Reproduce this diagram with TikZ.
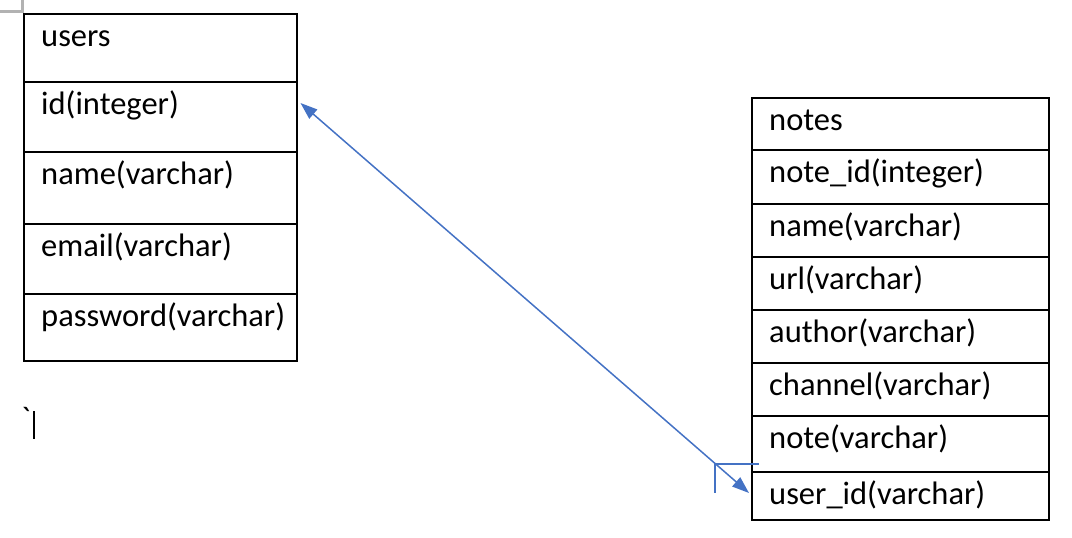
\documentclass[tikz,border=0pt]{standalone}
\usepackage{fontspec}
\setmainfont{Carlito}
\newfontfamily\rawfont[Ligatures=TeXOff]{Carlito}
\usetikzlibrary{arrows.meta,calc}
\definecolor{linkblue}{RGB}{68,114,196}
\definecolor{markgray}{RGB}{178,178,178}
\begin{document}
\begin{tikzpicture}[x=1pt,y=-1pt,
  cell/.style={draw=black,line width=1.5pt,minimum width=#1,inner sep=0pt,anchor=north west},
  cellh/.style={minimum height=#1},
  celltext/.style={anchor=base west,inner sep=0pt,font=\fontsize{32.5}{38}\selectfont},
  link/.style={draw=linkblue,line width=1.5pt}]
\useasboundingbox (0,0) rectangle (1072,538);
% gray corner mark
\draw[markgray,line width=3pt] (0,11) -- (22,11) -- (22,0);
% users table
\node[cell=273pt,cellh=68pt] (u1) at (23,13) {};
\node[cell=273pt,cellh=70pt] (u2) at (23,81) {};
\node[cell=273pt,cellh=72pt] (u3) at (23,151) {};
\node[cell=273pt,cellh=70pt] (u4) at (23,223) {};
\node[cell=273pt,cellh=67pt] (u5) at (23,293) {};
\node[celltext] (tu1) at ($(u1.north west)+(18,33.5)$) {users};
\node[celltext] (tu2) at ($(u2.north west)+(18,33.5)$) {id(integer)};
\node[celltext] (tu3) at ($(u3.north west)+(18,33.5)$) {name(varchar)};
\node[celltext] (tu4) at ($(u4.north west)+(18,33.5)$) {email(varchar)};
\node[celltext] (tu5) at ($(u5.north west)+(18,33.5)$) {password(varchar)};
% notes table
\node[cell=297pt,cellh=52pt] (n1) at (751,97) {};
\node[cell=297pt,cellh=54pt] (n2) at (751,149) {};
\node[cell=297pt,cellh=53pt] (n3) at (751,203) {};
\node[cell=297pt,cellh=53pt] (n4) at (751,256) {};
\node[cell=297pt,cellh=53pt] (n5) at (751,309) {};
\node[cell=297pt,cellh=53pt] (n6) at (751,362) {};
\node[cell=297pt,cellh=56pt] (n7) at (751,415) {};
\node[cell=297pt,cellh=48pt] (n8) at (751,471) {};
\node[celltext] (tn1) at ($(n1.north west)+(18,33.5)$) {notes};
\node[celltext] (tn2) at ($(n2.north west)+(18,33.5)$) {note\_id(integer)};
\node[celltext] (tn3) at ($(n3.north west)+(18,33.5)$) {name(varchar)};
\node[celltext] (tn4) at ($(n4.north west)+(18,33.5)$) {url(varchar)};
\node[celltext] (tn5) at ($(n5.north west)+(18,33.5)$) {author(varchar)};
\node[celltext] (tn6) at ($(n6.north west)+(18,33.5)$) {channel(varchar)};
\node[celltext] (tn7) at ($(n7.north west)+(18,33.5)$) {note(varchar)};
\node[celltext] (tn8) at ($(n8.north west)+(18,33.5)$) {user\_id(varchar)};
% stray backtick and cursor
\node[celltext,font=\rawfont\fontsize{32.5}{38}\selectfont] (tick) at (21,429) {`};
\coordinate (curtop) at (34,411);
\coordinate (curbot) at (34,439);
\draw[line width=2pt] (curtop) -- (curbot);
% relationship connector
\coordinate (ua) at ($(u2.north east)+(3,22)$);
\coordinate (nb) at ($(n8.north west)+(-2,22)$);
\draw[link,{Triangle[length=17pt,width=12pt]}-{Triangle[length=17pt,width=12pt]}] (ua) -- (nb);
\coordinate (fk) at (715,464);
\draw[link] ($(fk)+(44,0)$) -- (fk) -- ($(fk)+(0,29)$);
\end{tikzpicture}
\end{document}
